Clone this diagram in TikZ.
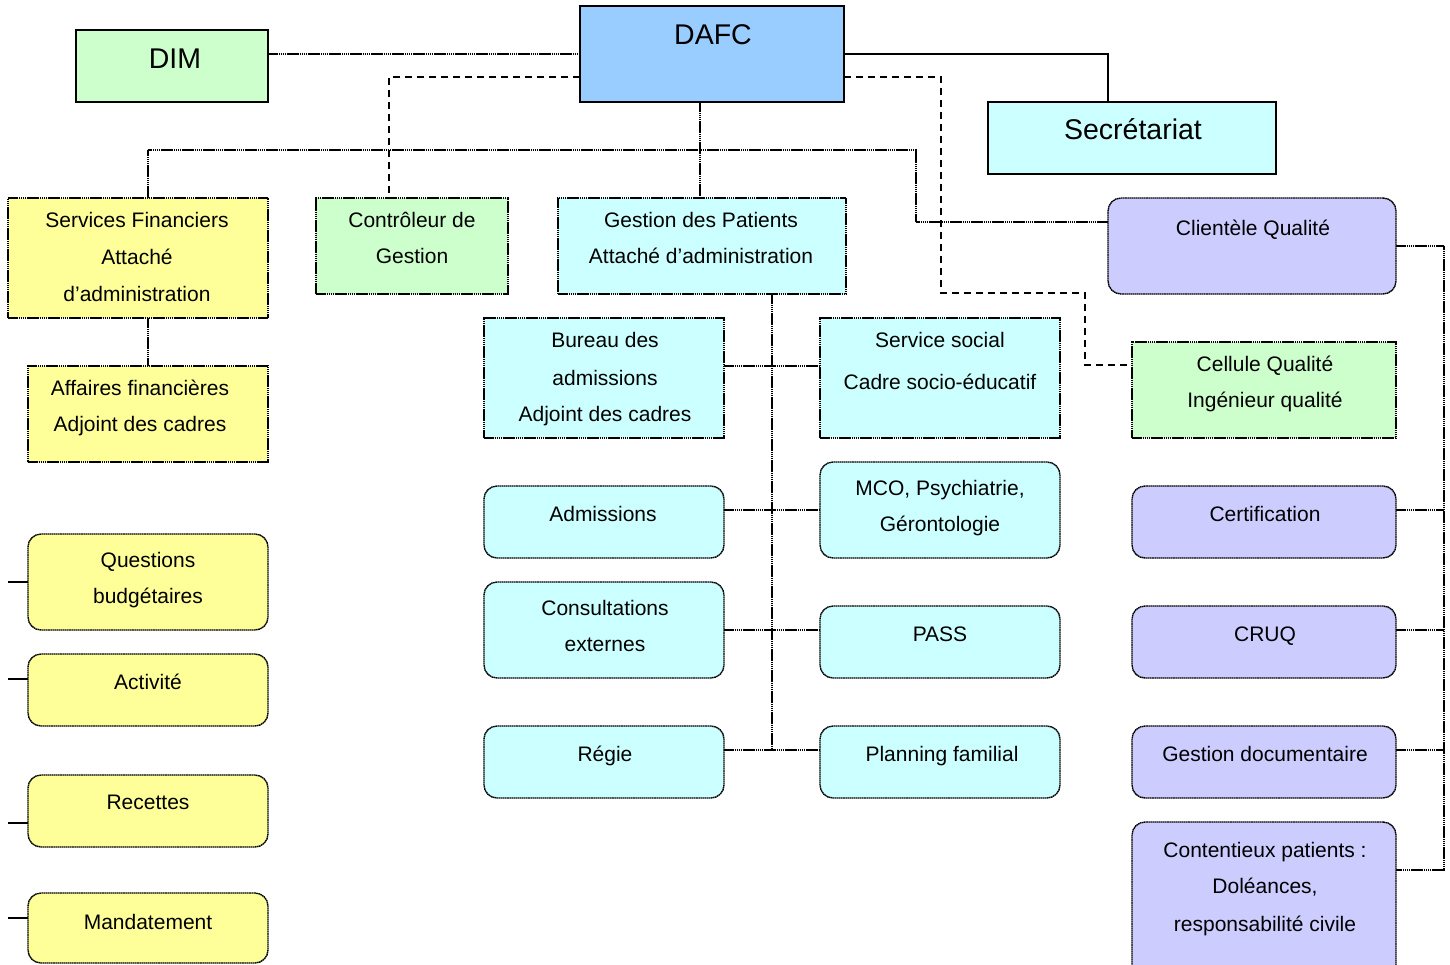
\documentclass[tikz,border=0pt]{standalone}
\usepackage{fontspec}
\setmainfont{Liberation Sans}
\usetikzlibrary{calc}
\definecolor{yel}{HTML}{FFFF99}
\definecolor{grn}{HTML}{CCFFCC}
\definecolor{cyn}{HTML}{CCFFFF}
\definecolor{blu}{HTML}{99CCFF}
\definecolor{pur}{HTML}{CCCCFF}
\tikzset{
  base/.style={inner sep=0pt, outer sep=0pt, anchor=north west},
  solidbox/.style={base, draw, line width=1.5pt},
  dotbox/.style={base, draw, line width=1.4pt, dash pattern=on 1.6pt off 0.5pt},
  rnd/.style={rounded corners=13pt},
  dotln/.style={line width=1.4pt, dash pattern=on 1.6pt off 0.5pt},
  solidln/.style={line width=1.3pt},
  dashln/.style={line width=1.6pt, dash pattern=on 7pt off 5pt},
  lbl/.style={anchor=base, inner sep=0pt, font=\fontsize{21}{25}\selectfont},
  big/.style={anchor=base, inner sep=0pt, font=\fontsize{28.5}{34}\selectfont},
}
\begin{document}
\begin{tikzpicture}[x=1pt, y=-1pt]
\clip (0,0) rectangle (1450,964);
\fill[white] (0,0) rectangle (1450,964);

% ---- top level ----
\node[solidbox, fill=grn, minimum width=192pt, minimum height=72pt] (dim) at (76,30) {};
\node[solidbox, fill=blu, minimum width=264pt, minimum height=96pt] (dafc) at (580,6) {};
\node[solidbox, fill=cyn, minimum width=288pt, minimum height=72pt] (sec) at (988,102) {};
\node[big] (dim-t) at (175,68) {DIM};
\node[big] (dafc-t) at (713,44) {DAFC};
\node[big] (sec-t) at (1133,139) {Secrétariat};

% ---- second level ----
\node[dotbox, fill=yel, minimum width=260pt, minimum height=120pt] (sf) at (8,198) {};
\node[dotbox, fill=grn, minimum width=192pt, minimum height=96pt] (ctrl) at (316,198) {};
\node[dotbox, fill=cyn, minimum width=288pt, minimum height=96pt] (gp) at (558,198) {};
\node[dotbox, rnd, fill=pur, minimum width=288pt, minimum height=96pt] (clq) at (1108,198) {};
\node[dotbox, fill=grn, minimum width=264pt, minimum height=96pt] (cell) at (1132,342) {};

% ---- finances ----
\node[dotbox, fill=yel, minimum width=240pt, minimum height=96pt] (aff) at (28,366) {};
\node[dotbox, rnd, fill=yel, minimum width=240pt, minimum height=96pt] (qb) at (28,534) {};
\node[dotbox, rnd, fill=yel, minimum width=240pt, minimum height=72pt] (act) at (28,654) {};
\node[dotbox, rnd, fill=yel, minimum width=240pt, minimum height=72pt] (rec) at (28,775) {};
\node[dotbox, rnd, fill=yel, minimum width=240pt, minimum height=70pt] (mand) at (28,893) {};

% ---- patients ----
\node[dotbox, fill=cyn, minimum width=240pt, minimum height=120pt] (bur) at (484,318) {};
\node[dotbox, fill=cyn, minimum width=240pt, minimum height=120pt] (soc) at (820,318) {};
\node[dotbox, rnd, fill=cyn, minimum width=240pt, minimum height=72pt] (adm) at (484,486) {};
\node[dotbox, rnd, fill=cyn, minimum width=240pt, minimum height=96pt] (mco) at (820,462) {};
\node[dotbox, rnd, fill=cyn, minimum width=240pt, minimum height=96pt] (cons) at (484,582) {};
\node[dotbox, rnd, fill=cyn, minimum width=240pt, minimum height=72pt] (pass) at (820,606) {};
\node[dotbox, rnd, fill=cyn, minimum width=240pt, minimum height=72pt] (regie) at (484,726) {};
\node[dotbox, rnd, fill=cyn, minimum width=240pt, minimum height=72pt] (plan) at (820,726) {};

% ---- qualité ----
\node[dotbox, rnd, fill=pur, minimum width=264pt, minimum height=72pt] (cert) at (1132,486) {};
\node[dotbox, rnd, fill=pur, minimum width=264pt, minimum height=72pt] (cruq) at (1132,606) {};
\node[dotbox, rnd, fill=pur, minimum width=264pt, minimum height=72pt] (gdoc) at (1132,726) {};
\node[dotbox, rnd, fill=pur, minimum width=264pt, minimum height=160pt] (cont) at (1132,822) {};

% ---- labels ----
\foreach \y/\t [count=\i] in {227/Services Financiers, 264/Attaché, 301/d’administration}
  \node[lbl] (sf-\i) at (137,\y) {\t};
\foreach \y/\t [count=\i] in {227/Contrôleur de, 263/Gestion}
  \node[lbl] (ctrl-\i) at (412,\y) {\t};
\foreach \y/\t [count=\i] in {227/Gestion des Patients, 263/Attaché d’administration}
  \node[lbl] (gp-\i) at (701,\y) {\t};
\node[lbl] (clq-1) at (1253,235) {Clientèle Qualité};
\foreach \y/\t [count=\i] in {371/Cellule Qualité, 407/Ingénieur qualité}
  \node[lbl] (cell-\i) at (1265,\y) {\t};
\foreach \y/\t [count=\i] in {395/Affaires financières, 431/Adjoint des cadres}
  \node[lbl] (aff-\i) at (140,\y) {\t};
\foreach \y/\t [count=\i] in {567/Questions, 603/budgétaires}
  \node[lbl] (qb-\i) at (148,\y) {\t};
\node[lbl] (act-1) at (148,689) {Activité};
\node[lbl] (rec-1) at (148,809) {Recettes};
\node[lbl] (mand-1) at (148,929) {Mandatement};
\foreach \y/\t [count=\i] in {347/Bureau des, 385/admissions, 421/Adjoint des cadres}
  \node[lbl] (bur-\i) at (605,\y) {\t};
\foreach \y/\t [count=\i] in {347/Service social, 389/Cadre socio-éducatif}
  \node[lbl] (soc-\i) at (940,\y) {\t};
\node[lbl] (adm-1) at (603,521) {Admissions};
\foreach \y/\t [count=\i] in {495/{MCO, Psychiatrie,}, 531/Gérontologie}
  \node[lbl] (mco-\i) at (940,\y) {\t};
\foreach \y/\t [count=\i] in {615/Consultations, 651/externes}
  \node[lbl] (cons-\i) at (605,\y) {\t};
\node[lbl] (pass-1) at (940,641) {PASS};
\node[lbl] (regie-1) at (605,761) {Régie};
\node[lbl] (plan-1) at (942,761) {Planning familial};
\node[lbl] (cert-1) at (1265,521) {Certification};
\node[lbl] (cruq-1) at (1265,641) {CRUQ};
\node[lbl] (gdoc-1) at (1265,761) {Gestion documentaire};
\foreach \y/\t [count=\i] in {857/Contentieux patients :, 893/{Doléances,}, 931/responsabilité civile}
  \node[lbl] (cont-\i) at (1265,\y) {\t};

% ---- connectors ----
\coordinate (busL) at (148,150);
\coordinate (busR) at (916,150);
\coordinate (dd1) at (941,293);
\coordinate (dd2) at (1085,365);
\coordinate (spine) at (772,750);
\coordinate (rbus) at (1444,246);
\coordinate (rbusB) at (1444,870);

\draw[dotln] ([yshift=-24pt]dim.north east) -- ([yshift=-48pt]dafc.north west);
\draw[solidln] ([yshift=-48pt]dafc.north east) -| ([xshift=120pt]sec.north west);
\draw[dashln] ([yshift=-71pt]dafc.north west) -| ([xshift=73pt]ctrl.north west);
\draw[dashln] ([yshift=-71pt]dafc.north east) -| (dd1) -| (dd2) -- (dd2 -| cell.west);

\draw[dotln] ([xshift=120pt]dafc.south west) -- ([xshift=142pt]gp.north west);
\draw[dotln] ([xshift=140pt]sf.north west) -- (busL) -- (busR) |- ([yshift=-24pt]clq.north west);
\draw[dotln] ([xshift=140pt]sf.south west) -- ([xshift=120pt]aff.north west);

\draw[dotln] ([xshift=214pt]gp.south west) -- (spine);
\draw[dotln] ([yshift=-48pt]bur.north east) -- ([yshift=-48pt]soc.north west);
\draw[dotln] ([yshift=-24pt]adm.north east) -- ([yshift=-48pt]mco.north west);
\draw[dotln] (cons.east) -- ([yshift=-24pt]pass.north west);
\draw[dotln] ([yshift=-24pt]regie.north east) -- ([yshift=-24pt]plan.north west);

\draw[dotln] (clq.east) -- (rbus) -- (rbusB) -- ([yshift=-48pt]cont.north east);
\draw[dotln] ([yshift=-24pt]cert.north east) -- ([yshift=-24pt]cert.north east -| rbus);
\draw[dotln] ([yshift=-24pt]cruq.north east) -- ([yshift=-24pt]cruq.north east -| rbus);
\draw[dotln] ([yshift=-24pt]gdoc.north east) -- ([yshift=-24pt]gdoc.north east -| rbus);

\coordinate (lq) at (8,582);
\coordinate (la) at (8,679);
\coordinate (lr) at (8,823);
\coordinate (lm) at (8,918);
\draw[solidln] (lq) -- (lq -| qb.west);
\draw[solidln] (la) -- (la -| act.west);
\draw[solidln] (lr) -- (lr -| rec.west);
\draw[solidln] (lm) -- (lm -| mand.west);
\end{tikzpicture}
\end{document}
